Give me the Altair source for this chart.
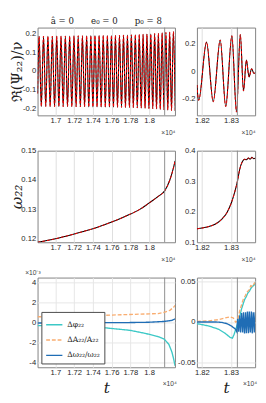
import altair as alt
import pandas as pd

# ------------------------------------------------------------------ data
title_text = "â = 0\u2003\u2003e₀ = 0\u2003\u2003p₀ = 8"

# top-left: waveform Re(Psi22)/nu, extrema
wl_t0 = [16810]
wl_v0 = [-0.12]
wl_peak_t = [16826, 16873, 16920, 16967, 17014, 17060, 17106, 17152, 17198, 17243,
             17288, 17333, 17378, 17422, 17466, 17510, 17554, 17597, 17640, 17683,
             17726, 17768, 17810, 17852, 17894, 17935, 17976, 18017, 18058, 18098,
             18138, 18178, 18218, 18258]
wl_peak_v = [0.186, 0.187, 0.187, 0.187, 0.188, 0.188, 0.188, 0.188, 0.189, 0.189,
             0.189, 0.189, 0.190, 0.190, 0.190, 0.191, 0.191, 0.191, 0.192, 0.192,
             0.193, 0.193, 0.194, 0.195, 0.196, 0.197, 0.198, 0.199, 0.201, 0.203,
             0.205, 0.207, 0.209, 0.212]
wl_trough_t = [16850, 16897, 16944, 16991, 17037, 17083, 17129, 17175, 17221, 17266,
               17311, 17356, 17400, 17444, 17488, 17532, 17576, 17619, 17662, 17705,
               17747, 17789, 17831, 17873, 17915, 17956, 17997, 18038, 18078, 18118,
               18158, 18198, 18238, 18278]
wl_trough_v = [-0.189, -0.189, -0.190, -0.190, -0.190, -0.190, -0.190, -0.191, -0.191, -0.191,
               -0.191, -0.192, -0.192, -0.192, -0.192, -0.193, -0.193, -0.193, -0.194, -0.194,
               -0.195, -0.195, -0.196, -0.197, -0.198, -0.199, -0.200, -0.201, -0.203, -0.205,
               -0.207, -0.209, -0.211, -0.214]

# top-right: merger waveform
wr_t = [18183, 18189, 18216, 18239, 18263, 18282, 18303, 18319, 18332, 18343, 18353, 18362, 18371, 18379, 18388]
wr_v = [-0.098, -0.21, 0.214, -0.22, 0.23, -0.255, 0.26, -0.296, 0.27, -0.142, 0.083, -0.04, 0.02, -0.014, 0.0]

# middle: omega22
oml_t = [16810, 17000, 17100, 17200, 17300, 17400, 17500, 17600, 17700, 17800, 17900, 18000, 18100, 18165, 18220, 18260, 18276]
oml_v = [0.1188, 0.1200, 0.1208, 0.1216, 0.1225, 0.1234, 0.1245, 0.1257, 0.1270, 0.1284, 0.1300, 0.1322, 0.1345, 0.1363, 0.1400, 0.1443, 0.1465]
omr_t = [18183, 18213, 18247, 18269, 18286, 18302, 18313, 18322, 18330, 18338, 18347, 18353, 18360, 18366, 18372, 18378, 18385]
omr_v = [0.144, 0.149, 0.160, 0.176, 0.197, 0.231, 0.265, 0.299, 0.339, 0.362, 0.372, 0.370, 0.376, 0.372, 0.378, 0.374, 0.376]

# bottom-left (units of 1e-3)
bl_phi_t = [16810, 17127, 17460, 17793, 17960, 18094, 18160, 18210, 18243, 18260, 18276]
bl_phi_v = [-0.31, -0.37, -0.47, -0.78, -1.09, -1.40, -1.65, -2.18, -2.96, -3.60, -4.30]
bl_amp_t = [16810, 17127, 17460, 17793, 18000, 18094, 18160, 18220, 18260, 18276]
bl_amp_v = [0.56, 0.62, 0.69, 0.79, 0.85, 0.88, 1.00, 1.20, 1.50, 1.70]
bl_om_t = [16810, 17300, 17800, 18000, 18160, 18240, 18276]
bl_om_v = [-0.06, -0.04, -0.01, 0.02, 0.10, 0.20, 0.35]

# bottom-right
br_phi_t = [18183, 18225, 18258, 18280, 18297, 18305, 18311, 18319, 18327, 18336, 18347, 18352, 18358, 18363, 18369, 18374, 18380, 18385]
br_phi_v = [-0.002, -0.005, -0.009, -0.014, -0.019, -0.020, -0.015, -0.006, 0.002, 0.016, 0.028, 0.031, 0.036, 0.038, 0.042, 0.044, 0.046, 0.050]
br_amp_t = [18183, 18225, 18258, 18280, 18297, 18308, 18316, 18322, 18330, 18342, 18350, 18355, 18363, 18368, 18375, 18380, 18385]
br_amp_v = [0.0008, 0.0015, 0.003, 0.005, 0.0065, 0.005, 0.0, 0.001, 0.014, 0.028, 0.033, 0.037, 0.040, 0.045, 0.044, 0.048, 0.049]
br_om_t = [18183, 18250, 18270, 18286, 18302, 18316, 18320, 18323, 18326.5, 18330, 18333, 18336.5, 18340,
           18343, 18346.5, 18350, 18353, 18356.5, 18360, 18363, 18366.5, 18370, 18373, 18376.5, 18380, 18383, 18386]
br_om_v = [0.0, 0.0, -0.0005, -0.002, -0.005, -0.009, -0.012, 0.004, -0.012, 0.008, -0.013, 0.011, -0.013,
           0.012, -0.014, 0.012, -0.014, 0.013, -0.014, 0.013, -0.013, 0.013, -0.014, 0.012, -0.013, 0.012, -0.010]

series_names = ["Δφ₂₂", "ΔA₂₂/A₂₂", "Δω₂₂/ω₂₂"]
series_colors = ["#3cc8c6", "#f9ad70", "#1f6db5"]
series_dash = [[1, 0], [4, 2], [1, 0]]

xl_domain = [16810, 18275]
xr_domain = [18183, 18383]
xl_ticks = [17000, 17200, 17400, 17600, 17800, 18000]
xr_ticks = [18200, 18300]
event_left = [18165]
event_right = [18322]

# ------------------------------------------------------------------ tables
wl_df = pd.concat([
    pd.DataFrame({"t": wl_t0, "v": wl_v0}),
    pd.DataFrame({"t": wl_peak_t, "v": wl_peak_v}),
    pd.DataFrame({"t": wl_trough_t, "v": wl_trough_v}),
]).sort_values("t")
wr_df = pd.DataFrame({"t": wr_t, "v": wr_v})
oml_df = pd.DataFrame({"t": oml_t, "v": oml_v})
omr_df = pd.DataFrame({"t": omr_t, "v": omr_v})


def series_df(parts):
    frames = []
    for name, (t, v) in zip(series_names, parts):
        frames.append(pd.DataFrame({"t": t, "v": v, "s": name}))
    return pd.concat(frames)


bl_df = series_df([(bl_phi_t, bl_phi_v), (bl_amp_t, bl_amp_v), (bl_om_t, bl_om_v)])
br_df = series_df([(br_phi_t, br_phi_v), (br_amp_t, br_amp_v), (br_om_t, br_om_v)])
evl_df = pd.DataFrame({"t": event_left})
evr_df = pd.DataFrame({"t": event_right})
one_df = pd.DataFrame({"a": [0]})

# ------------------------------------------------------------------ helpers
W_L, W_R = 144, 61
H1, H2, H3 = 92, 96, 94
LBL_FONT = "Liberation Sans"
SERIF = "DejaVu Serif"


def ylab(fmt):
    return f"replace(datum.value == 0 ? '0' : format(datum.value, '{fmt}'), '−', '-')"


XLAB = "format(datum.value / 10000, '.3~f')"


def x_axis(ticks, bottom=False):
    if bottom:
        return alt.Axis(values=ticks, labelExpr=XLAB, title="t", titleFont=SERIF,
                        titleFontStyle="italic", titleFontSize=16, titleFontWeight="normal",
                        titleColor="#222", titlePadding=3, grid=True, gridColor="#e6e6e6")
    return alt.Axis(values=ticks, labelExpr=XLAB, title="×10⁴", titleAnchor="end",
                    titleFont=LBL_FONT, titleFontSize=7, titleFontWeight="normal",
                    titleColor="#444", titlePadding=4)


def y_axis(ticks, fmt, title=None, left=True, grid=False, style="normal", size=15):
    ext = 13 if left else 19
    kw = dict(values=ticks, labelExpr=ylab(fmt), minExtent=ext, maxExtent=ext, grid=grid,
              gridColor="#e6e6e6")
    if title:
        kw.update(title=title, titleFont=SERIF, titleFontSize=size, titleFontWeight="normal",
                  titleFontStyle=style, titleColor="#222", titlePadding=1)
    else:
        kw.update(title=None)
    return alt.Axis(**kw)


def wave_panel(df, xdom, ydom, yaxis, ev, width, height, xaxis):
    xs = alt.Scale(domain=xdom, nice=False, zero=False)
    ys = alt.Scale(domain=ydom, nice=False, zero=False)
    enc = dict(x=alt.X("t:Q", scale=xs, axis=xaxis), y=alt.Y("v:Q", scale=ys, axis=yaxis))
    black = alt.Chart(df).mark_line(color="black", strokeWidth=1.1, interpolate="monotone", clip=True).encode(**enc)
    red = alt.Chart(df).mark_line(color="#ff0000", strokeWidth=1.0, strokeDash=[3, 2],
                                  interpolate="monotone", clip=True).encode(**enc)
    rule = alt.Chart(ev).mark_rule(color="#8c8c8c", strokeWidth=1).encode(
        x=alt.X("t:Q", scale=xs, axis=xaxis))
    return alt.layer(black, red, rule).properties(width=width, height=height)


def diff_panel(df, xdom, xticks, ydom, yaxis, ev, width, height, legend):
    xs = alt.Scale(domain=xdom, nice=False, zero=False)
    ys = alt.Scale(domain=ydom, nice=False, zero=False)
    xa = x_axis(xticks, bottom=True)
    lines = alt.Chart(df).mark_line(strokeWidth=1.4, clip=True).encode(
        x=alt.X("t:Q", scale=xs, axis=xa),
        y=alt.Y("v:Q", scale=ys, axis=yaxis),
        color=alt.Color("s:N", scale=alt.Scale(domain=series_names, range=series_colors), legend=legend),
        strokeDash=alt.StrokeDash("s:N", scale=alt.Scale(domain=series_names, range=series_dash), legend=legend),
        detail="s:N",
    )
    rule = alt.Chart(ev).mark_rule(color="#8c8c8c", strokeWidth=1).encode(x=alt.X("t:Q", scale=xs, axis=xa))
    exp = alt.Chart(one_df).mark_text(text="×10⁴", align="right", baseline="top", font=LBL_FONT,
                                      fontSize=7, color="#444").encode(
        x=alt.value(width + 2), y=alt.value(height + 14))
    return alt.layer(rule, lines, exp).properties(width=width, height=height)


legend = alt.Legend(title=None, orient="bottom-left", offset=4, symbolType="stroke", symbolSize=289,
                    symbolStrokeWidth=1.5, labelFont=SERIF, labelFontSize=8, labelColor="#222",
                    fillColor="white", strokeColor="#444", padding=4, rowPadding=2, labelLimit=120,
                    labelOffset=4)

p1 = wave_panel(wl_df, xl_domain, [-0.237, 0.233],
                y_axis([-0.2, -0.1, 0, 0.1, 0.2], ".1f", "ℜ(Ψ₂₂)/ν"),
                evl_df, W_L, H1, x_axis(xl_ticks)).properties(
    title=alt.TitleParams(title_text, font=SERIF, fontSize=9, fontWeight="normal", color="#222",
                          anchor="middle", offset=1))
p2 = wave_panel(wr_df, xr_domain, [-0.32, 0.32],
                y_axis([-0.2, 0, 0.2], ".1f", left=False),
                evr_df, W_R, H1, x_axis(xr_ticks))
p3 = wave_panel(oml_df, xl_domain, [0.1188, 0.15],
                y_axis([0.12, 0.13, 0.14, 0.15], ".2f", "ω₂₂", style="italic", size=16),
                evl_df, W_L, H2, x_axis(xl_ticks))
p4 = wave_panel(omr_df, xr_domain, [0.1, 0.4],
                y_axis([0.1, 0.2, 0.3, 0.4], ".1f", left=False),
                evr_df, W_R, H2, x_axis(xr_ticks))
p5 = diff_panel(bl_df, xl_domain, xl_ticks, [-4.45, 4.45],
                y_axis([-4, -2, 0, 2, 4], "d", grid=True),
                evl_df, W_L, H3, legend).properties(
    title=alt.TitleParams("×10⁻³", font=LBL_FONT, fontSize=7, fontWeight="normal", color="#444",
                          anchor="start", offset=1))
p6 = diff_panel(br_df, xr_domain, xr_ticks, [-0.056, 0.055],
                y_axis([-0.05, 0, 0.05], ".2f", left=False, grid=True),
                evr_df, W_R, H3, None)

chart = alt.concat(p1, p2, p3, p4, p5, p6, columns=2, bounds="flush",
                   spacing={"row": 37, "column": 23}).resolve_scale(
    color="independent", strokeDash="independent"
).properties(padding=0).configure_axis(
    labelFont=LBL_FONT, labelFontSize=8, labelColor="#262626", ticks=False, domain=False,
    labelPadding=2
).configure_view(stroke="#7f7f7f", strokeWidth=1)

chart.save("out.html", embed_options={"renderer": "svg", "actions": False})
